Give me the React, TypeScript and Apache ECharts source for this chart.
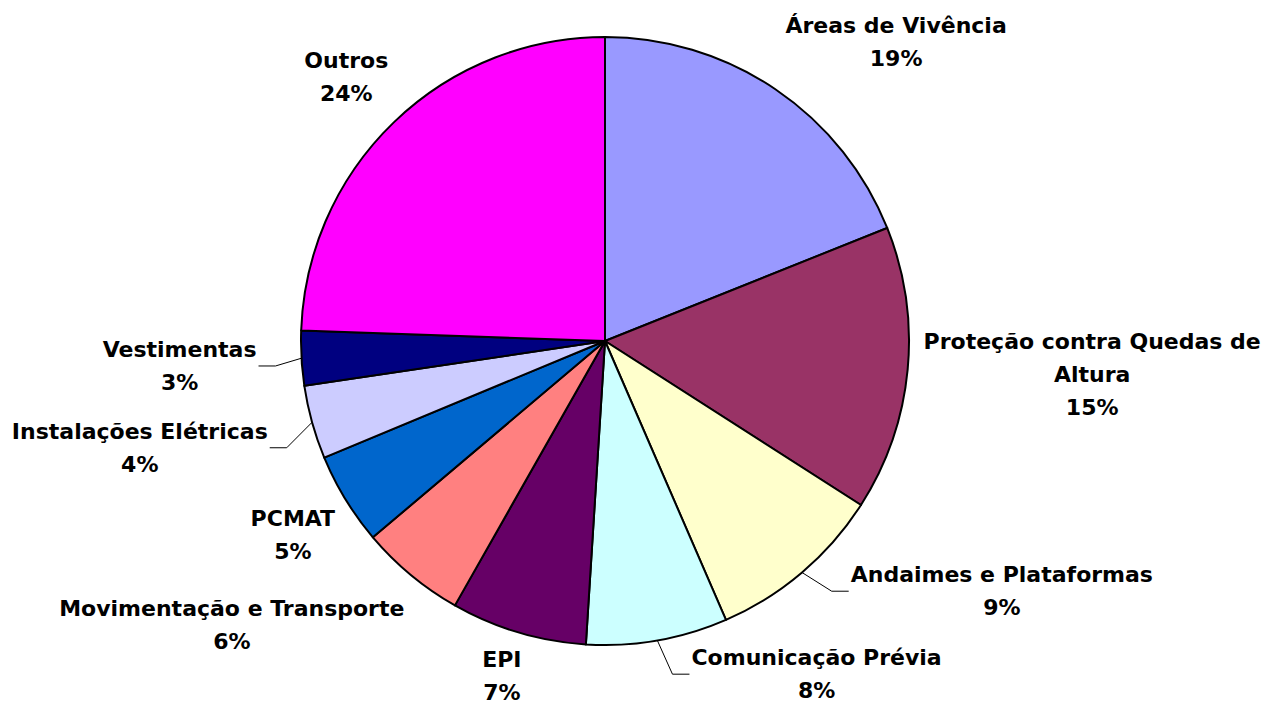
import { useEffect, useRef } from "react";
import * as echarts from "echarts";

// ---- data ----
const categories = [
  "Áreas de Vivência",
  "Proteção contra Quedas de Altura",
  "Andaimes e Plataformas",
  "Comunicação Prévia",
  "EPI",
  "Movimentação e Transporte",
  "PCMAT",
  "Instalações Elétricas",
  "Vestimentas",
  "Outros",
];
const shares = [18.9, 15.1, 9.4, 7.5, 7.2, 5.6, 4.9, 3.9, 2.9, 24.4];

// ---- styles / layout ----
const colors = [
  "#9999FF",
  "#993366",
  "#FFFFCC",
  "#CCFFFF",
  "#660066",
  "#FF8080",
  "#0066CC",
  "#CCCCFF",
  "#000080",
  "#FF00FF",
];
const CX = 605;
const CY = 341;
const R = 304;
const GAP = 18;
const FONT = "DejaVu Sans";
// number of words kept on the first line of a label (0 = no wrap)
const wrapWords = [0, 4, 0, 0, 0, 0, 0, 0, 0, 0];
// small manual nudges of the label boxes (like moved labels in the original)
const nudges: [number, number][] = [
  [0, 1],
  [-2, -6],
  [37, -28],
  [113, -17],
  [0, -7],
  [5, 3],
  [5, -7],
  [-27, 3],
  [-27, 3],
  [7, 1],
];
const leader = [false, false, true, true, false, false, false, true, true, false];

const clamp = (v: number) => Math.max(-1, Math.min(1, v));

export default function App() {
  const ref = useRef<HTMLDivElement>(null);
  useEffect(() => {
    if (!ref.current) return;
    const chart = echarts.init(ref.current, undefined, { renderer: "svg" });
    const total = shares.reduce((a, b) => a + b, 0);
    const mids: number[] = [];
    let acc = 0;
    shares.forEach((v) => {
      mids.push(((acc + v / 2) / total) * 2 * Math.PI);
      acc += v;
    });

    const wrapName = (name: string, i: number) => {
      const n = wrapWords[i];
      if (!n) return name;
      const words = name.split(" ");
      return words.slice(0, n).join(" ") + "\n" + words.slice(n).join(" ");
    };

    chart.setOption({
      animation: false,
      backgroundColor: "#ffffff",
      series: [
        {
          type: "pie",
          center: [CX, CY],
          radius: R,
          startAngle: 90,
          clockwise: true,
          avoidLabelOverlap: false,
          itemStyle: { borderColor: "#000", borderWidth: 2 },
          emphasis: { disabled: true },
          label: {
            show: true,
            position: "outside",
            color: "#000",
            fontFamily: FONT,
            fontWeight: "bold",
            fontSize: 22,
            lineHeight: 33,
            formatter: (p: any) =>
              `${wrapName(p.name, p.dataIndex)}\n${Math.round(p.percent)}%`,
          },
          labelLine: {
            show: false,
            lineStyle: { color: "#000", width: 1 },
          },
          labelLayout: (params: any) => {
            const i = params.dataIndex;
            const th = mids[i];
            const s = Math.sin(th);
            const c = Math.cos(th);
            const w = params.labelRect.width;
            const h = params.labelRect.height;
            const px = CX + (R + GAP) * s;
            const py = CY - (R + GAP) * c;
            const x = px + clamp(2 * s) * (w / 2) + nudges[i][0];
            const y = py + clamp(-2 * c) * (h / 2) + nudges[i][1];
            const out: any = { x, y, align: "center", verticalAlign: "middle" };
            if (leader[i]) {
              const sx = CX + R * s;
              const sy = CY - R * c;
              const right = x > CX;
              const ex = right ? x - w / 2 - 2 : x + w / 2 + 2;
              const mx = right ? ex - 17 : ex + 17;
              out.labelLinePoints = [
                [sx, sy],
                [mx, y],
                [ex, y],
              ];
            }
            return out;
          },
          data: categories.map((name, i) => ({
            name,
            value: shares[i],
            itemStyle: { color: colors[i] },
            labelLine: { show: leader[i] },
          })),
        },
      ],
    });
    return () => chart.dispose();
  }, []);
  return (
    <div
      ref={ref}
      style={{ position: "absolute", left: 0, top: 0, width: 1265, height: 708 }}
    />
  );
}
